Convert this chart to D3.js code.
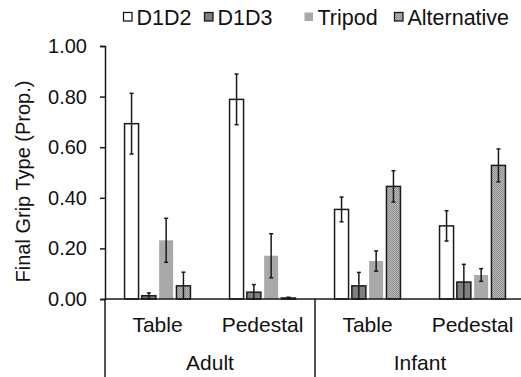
<!DOCTYPE html>
<html>
<head>
<meta charset="utf-8">
<script src="https://cdn.jsdelivr.net/npm/d3@7"></script>
<style>
  body { margin: 0; background: #fff; }
  svg { display: block; font-family: "Liberation Sans", Arial, sans-serif; }
</style>
</head>
<body>
<div id="chart"></div>
<script>
// 数据
const groups = ["Adult", "Infant"];
const surfaces = ["Table", "Pedestal"];
const series = ["D1D2", "D1D3", "Tripod", "Alternative"];
const yTicks = [0, 0.2, 0.4, 0.6, 0.8, 1.0];
// 顺序: Adult-Table, Adult-Pedestal, Infant-Table, Infant-Pedestal
const d1d2 = [0.693, 0.789, 0.354, 0.289];
const d1d2Err = [0.12, 0.10, 0.049, 0.06];
const d1d3 = [0.013, 0.027, 0.052, 0.067];
const d1d3Err = [0.011, 0.03, 0.053, 0.07];
const tripod = [0.232, 0.171, 0.15, 0.095];
const tripodErr = [0.087, 0.087, 0.04, 0.025];
const alternative = [0.052, 0.004, 0.445, 0.528];
const alternativeErr = [0.054, 0.003, 0.062, 0.065];

const width = 521, height = 377;
const margin = { left: 105, top: 46, right: -4, bottom: 78 };
const plotBottom = height - margin.bottom; // 299

const values = [d1d2, d1d3, tripod, alternative];
const errors = [d1d2Err, d1d3Err, tripodErr, alternativeErr];
const categories = [];
groups.forEach(g => surfaces.forEach(s => categories.push(g + "|" + s)));

const svg = d3.select("#chart").append("svg")
    .attr("width", width)
    .attr("height", height);

// 填充图案
const defs = svg.append("defs");
const pat = defs.append("pattern")
    .attr("id", "dots")
    .attr("width", 2).attr("height", 2)
    .attr("patternUnits", "userSpaceOnUse");
pat.append("rect").attr("width", 2).attr("height", 2).attr("fill", "#bcbcbc");
pat.append("rect").attr("width", 1).attr("height", 1).attr("fill", "#8c8c8c");
pat.append("rect").attr("x", 1).attr("y", 1).attr("width", 1).attr("height", 1).attr("fill", "#8c8c8c");

const fills = { D1D2: "#ffffff", D1D3: "#7f7f7f", Tripod: "#a9a9a9", Alternative: "url(#dots)" };
const strokes = { D1D2: "#1a1a1a", D1D3: "#1a1a1a", Tripod: "none", Alternative: "#1a1a1a" };

const x0 = d3.scaleBand()
    .domain(categories)
    .range([margin.left, width - margin.right])
    .padding(0);

const x1 = d3.scaleBand()
    .domain(series)
    .range([0, x0.bandwidth()])
    .paddingInner(0.19)
    .paddingOuter(1.13);

const y = d3.scaleLinear()
    .domain([0, 1])
    .range([plotBottom, margin.top]);

// y 轴
const yAxis = svg.append("g")
    .attr("transform", `translate(${margin.left},0)`)
    .call(d3.axisLeft(y).tickValues(yTicks).tickFormat(d3.format(".2f")).tickSize(5).tickSizeOuter(5).tickPadding(13));
yAxis.select(".domain").attr("stroke", "#1a1a1a").attr("stroke-width", 1.5);
yAxis.selectAll(".tick line").attr("stroke", "#1a1a1a").attr("stroke-width", 1.5);
yAxis.selectAll(".tick text")
    .attr("font-size", "20px")
    .attr("fill", "#111")
    .style("font-family", "Liberation Sans, Arial, sans-serif");

// 柱子
const bars = svg.append("g");
series.forEach((s, si) => {
    categories.forEach((c, ci) => {
        const v = values[si][ci];
        const e = errors[si][ci];
        const bx = x0(c) + x1(s);
        const bw = x1.bandwidth();
        bars.append("rect")
            .attr("x", bx)
            .attr("y", y(v))
            .attr("width", bw)
            .attr("height", y(0) - y(v))
            .attr("fill", fills[s])
            .attr("stroke", strokes[s])
            .attr("stroke-width", 1.5);
        // 误差线
        const cx = bx + bw / 2;
        const top = y(v + e), bot = y(Math.max(0, v - e));
        bars.append("line")
            .attr("x1", cx).attr("x2", cx)
            .attr("y1", top).attr("y2", bot)
            .attr("stroke", "#1a1a1a").attr("stroke-width", 1.5);
        [top, bot].forEach(yy => {
            bars.append("line")
                .attr("x1", cx - 2).attr("x2", cx + 2)
                .attr("y1", yy).attr("y2", yy)
                .attr("stroke", "#1a1a1a").attr("stroke-width", 1.5);
        });
    });
});

// x 轴线和分组线
const axisG = svg.append("g").attr("stroke", "#1a1a1a").attr("stroke-width", 1.5);
axisG.append("line")
    .attr("x1", margin.left).attr("x2", width)
    .attr("y1", plotBottom).attr("y2", plotBottom);
groups.forEach((g, gi) => {
    const gx = x0(g + "|" + surfaces[0]);
    axisG.append("line")
        .attr("x1", gx).attr("x2", gx)
        .attr("y1", plotBottom).attr("y2", height);
});

// 类别标签
categories.forEach(c => {
    svg.append("text")
        .attr("x", x0(c) + x0.bandwidth() / 2)
        .attr("y", 332)
        .attr("text-anchor", "middle")
        .attr("font-size", "21px")
        .attr("fill", "#111")
        .text(c.split("|")[1]);
});
groups.forEach(g => {
    const gx = x0(g + "|" + surfaces[0]);
    svg.append("text")
        .attr("x", gx + x0.bandwidth())
        .attr("y", 370)
        .attr("text-anchor", "middle")
        .attr("font-size", "21px")
        .attr("fill", "#111")
        .text(g);
});

// y 轴标题
svg.append("text")
    .attr("transform", `translate(30,${(margin.top + plotBottom) / 2 + 9}) rotate(-90)`)
    .attr("text-anchor", "middle")
    .attr("font-size", "20px")
    .attr("fill", "#111")
    .text("Final Grip Type (Prop.)");

// 图例
const legendX = [123, 204, 304, 394];
const legend = svg.append("g");
series.forEach((s, i) => {
    const lg = legend.append("g").attr("transform", `translate(${legendX[i]},0)`);
    lg.append("rect")
        .attr("x", 0.5).attr("y", 12.5)
        .attr("width", 8.5).attr("height", 8.5)
        .attr("fill", fills[s])
        .attr("stroke", strokes[s])
        .attr("stroke-width", 1.3);
    lg.append("text")
        .attr("x", 13.5).attr("y", 25)
        .attr("font-size", "21.5px")
        .attr("fill", "#111")
        .text(s);
});
</script>
</body>
</html>
